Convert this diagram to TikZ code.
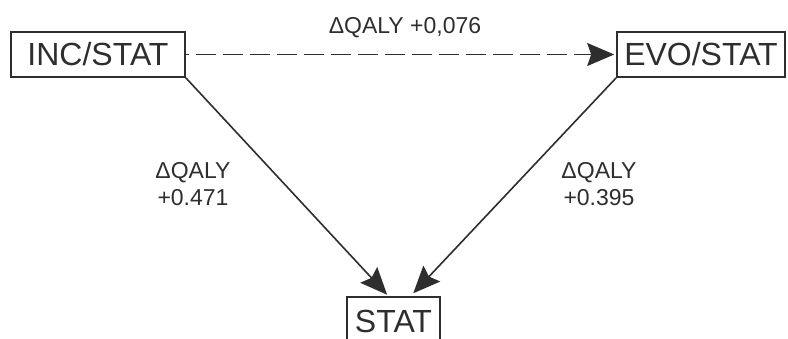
\documentclass[tikz,border=0pt]{standalone}
\usepackage{fontspec}
\setmainfont{Liberation Sans}
\usetikzlibrary{arrows.meta}
\definecolor{ink}{HTML}{2E2E2E}
\tikzset{
  statebox/.style={draw=ink, line width=1.6pt, text=ink, inner sep=0pt,
    font=\fontsize{32}{38}\selectfont},
  flow/.style={draw=ink, line width=1.6pt,
    -{Stealth[length=27pt, width=23pt, inset=4pt]}},
  gain/.style={text=ink, align=center, font=\fontsize{23}{27}\selectfont}
}
\begin{document}
\begin{tikzpicture}[x=1pt, y=-1pt]
  \clip (0,0) rectangle (788,338);
  \fill[white] (0,0) rectangle (788,338);

  % the three strategies
  \node[statebox, minimum width=174pt, minimum height=45pt] (inc) at (98,54.5) {INC/STAT};
  \node[statebox, minimum width=168pt, minimum height=45pt] (evo) at (701,54.5) {EVO/STAT};
  \node[statebox, minimum width=93pt, minimum height=48pt] (stat) at (393.5,321) {STAT};

  % comparisons
  \draw[flow, dash pattern=on 20pt off 7pt, dash phase=17pt, shorten >=2pt] (inc.east) -- (evo.west);
  \draw[flow, shorten >=2pt] (inc.south east) -- ([xshift=-5pt]stat.north);
  \draw[flow, shorten >=4pt] (evo.south west) -- ([xshift=17pt]stat.north);

  % QALY differences
  \node[gain] (dtop) at (405,28) {ΔQALY +0,076};
  \node[gain] (dleft) at (193,184) {ΔQALY\\+0.471};
  \node[gain] (dright) at (599,184) {ΔQALY\\+0.395};
\end{tikzpicture}
\end{document}
